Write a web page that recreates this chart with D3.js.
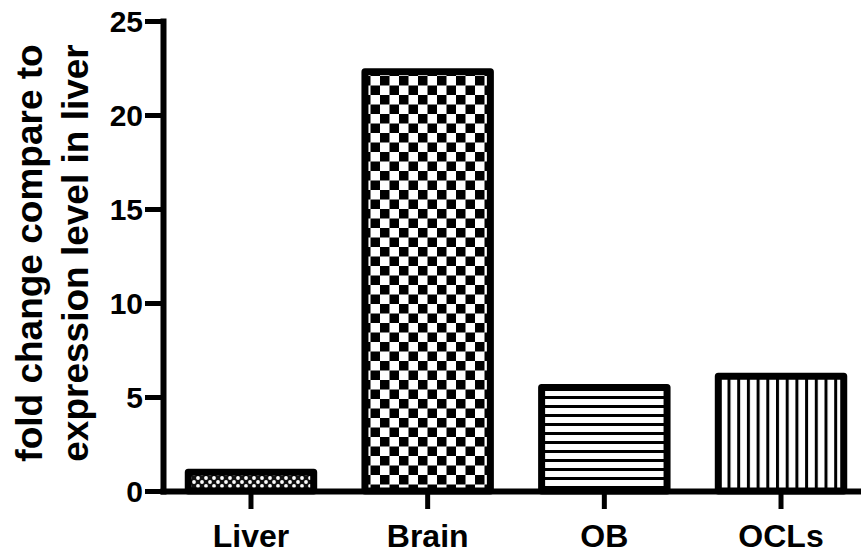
<!DOCTYPE html>
<html>
<head>
<meta charset="utf-8">
<script src="https://cdn.jsdelivr.net/npm/d3@7"></script>
<style>
  body { margin: 0; background: #fff; }
  svg { display: block; font-family: "Liberation Sans", Arial, sans-serif; font-weight: bold; }
</style>
</head>
<body>
<div id="chart"></div>
<script>
const categories = ['Liver', 'Brain', 'OB', 'OCLs'];
const values = [1.0, 22.3, 5.5, 6.1];
const patterns = ['dots', 'checker', 'hlines', 'vlines'];
const yTicks = [0, 5, 10, 15, 20, 25];

const width = 861;
const height = 553;

const svg = d3.select('#chart')
  .append('svg')
  .attr('width', width)
  .attr('height', height);

const x = d3.scaleBand()
  .domain(categories)
  .range([163, 869])
  .paddingInner(0.29)
  .paddingOuter(0.143);

const y = d3.scaleLinear()
  .domain([0, 25])
  .range([491, 21]);

// fill patterns
const defs = svg.append('defs');

const dots = defs.append('pattern')
  .attr('id', 'dots')
  .attr('patternUnits', 'userSpaceOnUse')
  .attr('width', 8).attr('height', 8);
dots.append('rect').attr('width', 8).attr('height', 8).attr('fill', '#111');
dots.append('circle').attr('cx', 2).attr('cy', 2).attr('r', 1.9).attr('fill', '#fff');
dots.append('circle').attr('cx', 6).attr('cy', 6).attr('r', 1.9).attr('fill', '#fff');

const checker = defs.append('pattern')
  .attr('id', 'checker')
  .attr('patternUnits', 'userSpaceOnUse')
  .attr('width', 19).attr('height', 19);
checker.append('rect').attr('width', 19).attr('height', 19).attr('fill', '#fff');
checker.append('rect').attr('width', 9.5).attr('height', 9.5).attr('fill', '#000');
checker.append('rect').attr('x', 9.5).attr('y', 9.5).attr('width', 9.5).attr('height', 9.5).attr('fill', '#000');

const hlines = defs.append('pattern')
  .attr('id', 'hlines')
  .attr('patternUnits', 'userSpaceOnUse')
  .attr('width', 9).attr('height', 9);
hlines.append('rect').attr('width', 9).attr('height', 9).attr('fill', '#fff');
hlines.append('rect').attr('y', 0).attr('width', 9).attr('height', 3).attr('fill', '#000');

const vlines = defs.append('pattern')
  .attr('id', 'vlines')
  .attr('patternUnits', 'userSpaceOnUse')
  .attr('width', 9.7).attr('height', 9.7);
vlines.append('rect').attr('width', 9.7).attr('height', 9.7).attr('fill', '#fff');
vlines.append('rect').attr('x', 0).attr('width', 3).attr('height', 9.7).attr('fill', '#000');

// bars
svg.selectAll('rect.bar')
  .data(categories)
  .enter()
  .append('rect')
  .attr('class', 'bar')
  .attr('x', d => x(d))
  .attr('y', (d, i) => y(values[i]))
  .attr('width', x.bandwidth())
  .attr('height', (d, i) => y(0) - y(values[i]))
  .attr('fill', (d, i) => `url(#${patterns[i]})`)
  .attr('stroke', '#000')
  .attr('stroke-width', 7)
  .attr('stroke-linejoin', 'round');

// axes
const yAxis = svg.append('g')
  .attr('transform', 'translate(163,0)')
  .call(d3.axisLeft(y).tickValues(yTicks).tickSize(18).tickSizeOuter(0).tickPadding(2));

const xAxis = svg.append('g')
  .attr('transform', `translate(0,${y(0)})`)
  .call(d3.axisBottom(x).tickSize(18).tickSizeOuter(0).tickPadding(8));

[yAxis, xAxis].forEach(g => {
  g.select('.domain').attr('stroke', '#000').attr('stroke-width', 6).attr('stroke-linecap', 'square');
  g.selectAll('.tick line').attr('stroke', '#000').attr('stroke-width', 5);
  g.selectAll('.tick text')
    .attr('fill', '#000')
    .attr('font-family', '"Liberation Sans", Arial, sans-serif')
    .attr('font-weight', 'bold');
});

yAxis.selectAll('.tick text').attr('font-size', 30).attr('dy', '0.36em');
xAxis.selectAll('.tick text').attr('font-size', 32).attr('dy', '0.95em');

// y axis title
const title = svg.append('text')
  .attr('transform', 'translate(0,253) rotate(-90)')
  .attr('text-anchor', 'middle')
  .attr('font-size', 37)
  .attr('fill', '#000');
title.append('tspan').attr('x', 0).attr('y', 42).text('fold change compare to');
title.append('tspan').attr('x', 0).attr('y', 88).text('expression level in liver');
</script>
</body>
</html>
